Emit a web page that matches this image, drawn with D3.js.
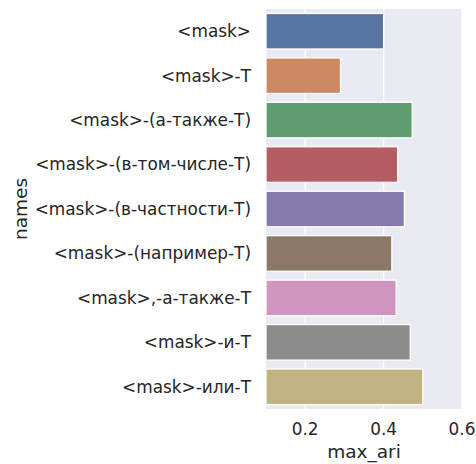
<!DOCTYPE html>
<html>
<head>
<meta charset="utf-8">
<script src="https://cdn.jsdelivr.net/npm/d3@7"></script>
<style>
  body { margin: 0; background: #fff; }
  text { font-family: "DejaVu Sans", sans-serif; fill: #262626; }
</style>
</head>
<body>
<div id="chart"></div>
<script>
// data
var names = ["<mask>", "<mask>-Т", "<mask>-(а-также-Т)", "<mask>-(в-том-числе-Т)",
  "<mask>-(в-частности-Т)", "<mask>-(например-Т)", "<mask>,-а-также-Т", "<mask>-и-Т", "<mask>-или-Т"];
var maxAri = [0.400, 0.290, 0.473, 0.436, 0.453, 0.421, 0.432, 0.468, 0.500];
var colors = ["#5975a4", "#cc8963", "#5f9e6e", "#b55d60", "#857aab", "#8d7866", "#d095bf", "#8c8c8c", "#c1b37f"];
var xTicks = [0.2, 0.4, 0.6];

var margin = { top: 9, right: 14, bottom: 55, left: 266 };
var width = 476 - margin.left - margin.right;
var height = 464 - margin.top - margin.bottom;

var svg = d3.select("#chart").append("svg")
    .attr("width", 476)
    .attr("height", 464)
  .append("g")
    .attr("transform", "translate(" + margin.left + "," + margin.top + ")");

var x = d3.scaleLinear().domain([0.1, 0.6]).range([0, width]);
var y = d3.scaleBand().domain(names).range([0, height]).paddingInner(0.2).paddingOuter(0.1);

// background + grid
svg.append("rect").attr("width", width).attr("height", height).attr("fill", "#eaeaf2");
svg.selectAll(".grid").data(xTicks).enter().append("line")
    .attr("x1", d => x(d)).attr("x2", d => x(d))
    .attr("y1", 0).attr("y2", height)
    .attr("stroke", "#fff").attr("stroke-width", 1.3);

// bars
svg.selectAll(".bar").data(names).enter().append("rect")
    .attr("x", x(0.1))
    .attr("y", d => y(d))
    .attr("width", (d, i) => x(maxAri[i]) - x(0.1))
    .attr("height", y.bandwidth())
    .attr("fill", (d, i) => colors[i])
    .attr("stroke", "#fff").attr("stroke-width", 1.3);

// y tick labels
svg.selectAll(".ylab").data(names).enter().append("text")
    .attr("x", -15)
    .attr("y", d => y(d) + y.bandwidth() / 2)
    .attr("dy", "0.35em")
    .attr("text-anchor", "end")
    .style("font-size", "16.9px")
    .text(d => d);

// x tick labels
svg.selectAll(".xlab").data(xTicks).enter().append("text")
    .attr("x", d => x(d))
    .attr("y", height + 26)
    .attr("text-anchor", "middle")
    .style("font-size", "16.9px")
    .text(d => d3.format(".1f")(d));

// axis titles
svg.append("text")
    .attr("x", width / 2)
    .attr("y", height + 49)
    .attr("text-anchor", "middle")
    .style("font-size", "18.5px")
    .text("max_ari");

svg.append("text")
    .attr("transform", "translate(" + (-239) + "," + (height / 2) + ") rotate(-90)")
    .attr("text-anchor", "middle")
    .style("font-size", "18.5px")
    .text("names");
</script>
</body>
</html>
